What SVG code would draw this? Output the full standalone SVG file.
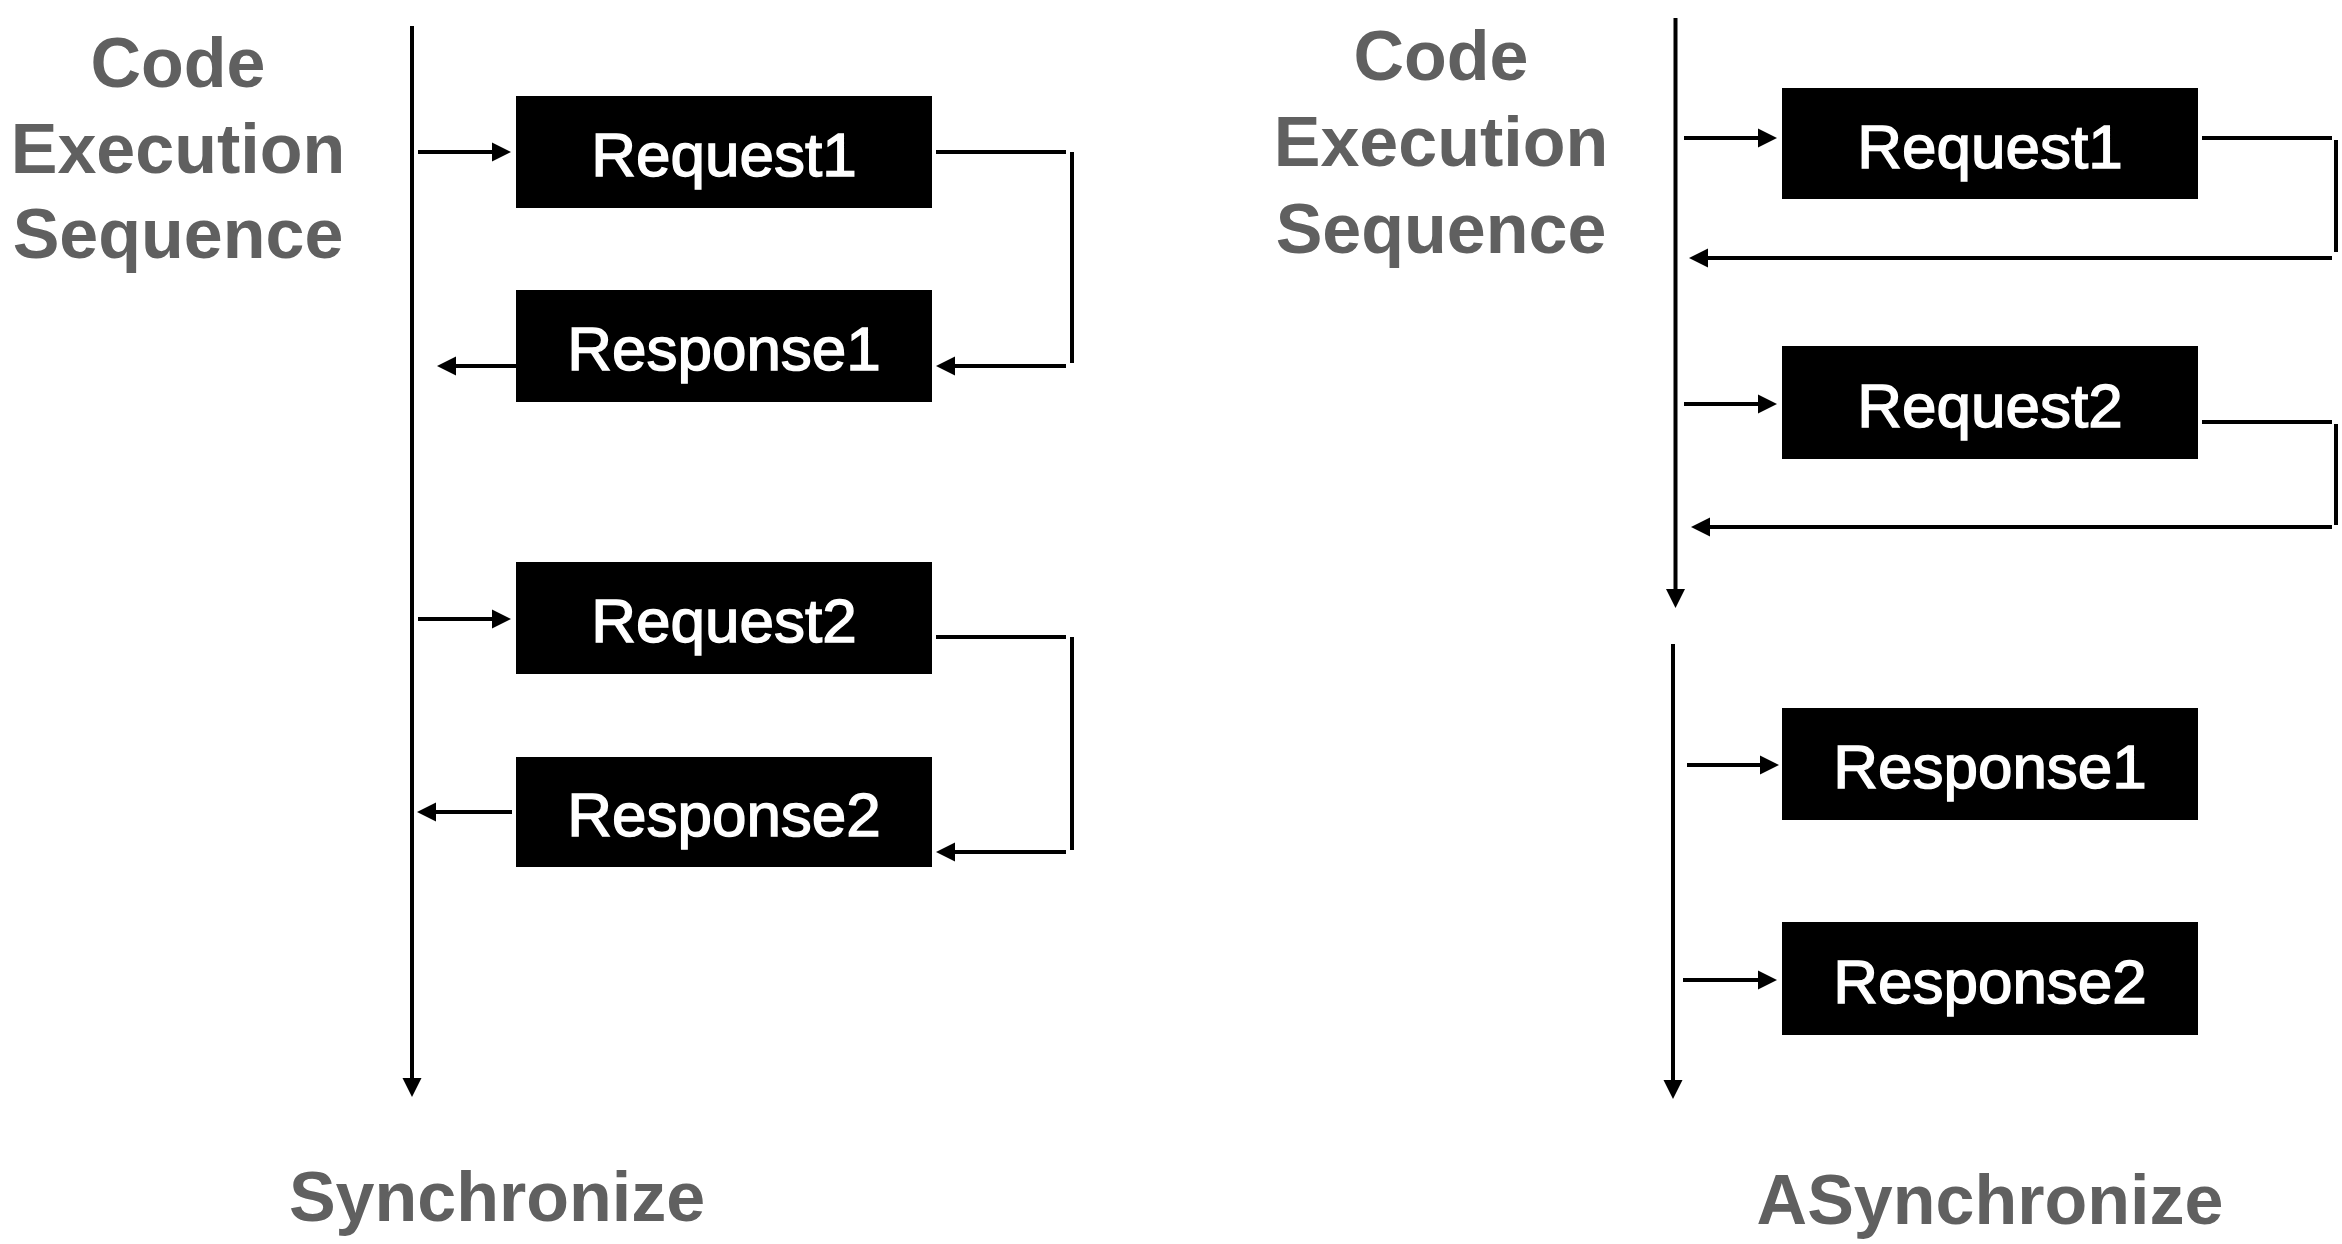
<svg xmlns="http://www.w3.org/2000/svg" width="2342" height="1244" viewBox="0 0 2342 1244">
<style>
.bg{fill:#ffffff}
.box{fill:#000000}
.bt{font-family:"Liberation Sans",Arial,sans-serif;font-size:62px;fill:#ffffff;stroke:#ffffff;stroke-width:1.4;text-anchor:middle}
.lbl{font-family:"Liberation Sans",Arial,sans-serif;font-size:70px;font-weight:bold;fill:#606060;text-anchor:middle}
.ln{stroke:#000000;stroke-width:4;fill:none}
.ar{stroke:#000000;stroke-width:4;fill:none;marker-end:url(#ah)}
</style>
<defs>
<marker id="ah" viewBox="0 0 19 19" refX="0" refY="9.5" markerWidth="19" markerHeight="19" markerUnits="userSpaceOnUse" orient="auto" overflow="visible">
<path d="M0,0 L19,9.5 L0,19 z" fill="#000000"/>
</marker>
</defs>
<rect class="bg" x="0" y="0" width="2342" height="1244"/>

<g id="labels">
<text class="lbl" x="178" y="87">Code</text>
<text class="lbl" x="178" y="173">Execution</text>
<text class="lbl" x="178" y="258">Sequence</text>
<text class="lbl" x="497" y="1221">Synchronize</text>
<text class="lbl" x="1441" y="80">Code</text>
<text class="lbl" x="1441" y="166">Execution</text>
<text class="lbl" x="1441" y="253">Sequence</text>
<text class="lbl" x="1990" y="1224">ASynchronize</text>
</g>

<g id="connectors">
<!-- left timeline -->
<line class="ar" x1="412" y1="26" x2="412" y2="1078"/>
<line class="ar" x1="418" y1="152" x2="492" y2="152"/>
<line class="ln" x1="936" y1="152" x2="1066" y2="152"/>
<line class="ln" x1="1072" y1="152" x2="1072" y2="363"/>
<line class="ar" x1="1066" y1="366" x2="955" y2="366"/>
<line class="ar" x1="516" y1="366" x2="456" y2="366"/>
<line class="ar" x1="418" y1="619" x2="492" y2="619"/>
<line class="ln" x1="936" y1="637" x2="1066" y2="637"/>
<line class="ln" x1="1072" y1="637" x2="1072" y2="850"/>
<line class="ar" x1="1066" y1="852" x2="955" y2="852"/>
<line class="ar" x1="512" y1="812" x2="436" y2="812"/>
<!-- right timeline -->
<line class="ar" x1="1675.5" y1="18" x2="1675.5" y2="589"/>
<line class="ar" x1="1684" y1="138" x2="1758" y2="138"/>
<line class="ln" x1="2202" y1="138" x2="2332" y2="138"/>
<line class="ln" x1="2336" y1="140" x2="2336" y2="252"/>
<line class="ar" x1="2332" y1="258" x2="1708" y2="258"/>
<line class="ar" x1="1684" y1="404" x2="1758" y2="404"/>
<line class="ln" x1="2202" y1="422" x2="2332" y2="422"/>
<line class="ln" x1="2336" y1="424" x2="2336" y2="525"/>
<line class="ar" x1="2332" y1="527" x2="1710" y2="527"/>
<line class="ar" x1="1673" y1="644" x2="1673" y2="1080"/>
<line class="ar" x1="1687" y1="765" x2="1760" y2="765"/>
<line class="ar" x1="1683" y1="980" x2="1758" y2="980"/>
</g>

<g id="sync-request1"><rect class="box" x="516" y="96" width="416" height="112"/><text class="bt" x="724" y="176">Request1</text></g>
<g id="sync-response1"><rect class="box" x="516" y="290" width="416" height="112"/><text class="bt" x="724" y="370">Response1</text></g>
<g id="sync-request2"><rect class="box" x="516" y="562" width="416" height="112"/><text class="bt" x="724" y="642">Request2</text></g>
<g id="sync-response2"><rect class="box" x="516" y="757" width="416" height="110"/><text class="bt" x="724" y="836">Response2</text></g>

<g id="async-request1"><rect class="box" x="1782" y="88" width="416" height="111"/><text class="bt" x="1990" y="168">Request1</text></g>
<g id="async-request2"><rect class="box" x="1782" y="346" width="416" height="113"/><text class="bt" x="1990" y="427">Request2</text></g>
<g id="async-response1"><rect class="box" x="1782" y="708" width="416" height="112"/><text class="bt" x="1990" y="788">Response1</text></g>
<g id="async-response2"><rect class="box" x="1782" y="922" width="416" height="113"/><text class="bt" x="1990" y="1003">Response2</text></g>
</svg>
